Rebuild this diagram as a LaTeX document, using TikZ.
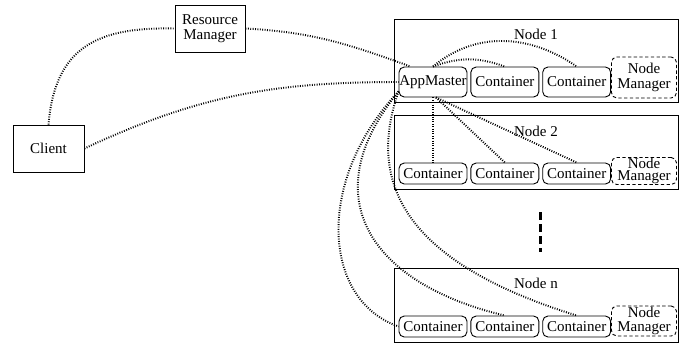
\documentclass[tikz,border=0pt]{standalone}
\usepackage{fontspec}
\setmainfont{Liberation Serif}
\usetikzlibrary{positioning}

\tikzset{
  box/.style={draw, line width=0.6pt, align=center, inner sep=0pt},
  host/.style={draw, line width=0.6pt, minimum width=189.3pt, minimum height=49.3pt},
  cont/.style={draw, rounded corners=3.5pt, line width=0.6pt, minimum width=45.3pt,
    minimum height=14pt, inner sep=0pt},
  nmgr/.style={draw, dash pattern=on 2.2pt off 1.6pt, rounded corners=3.5pt, line width=0.6pt,
    minimum width=43.3pt, align=center, inner sep=0pt},
  hostlabel/.style={anchor=north, inner sep=0pt},
  link/.style={line width=1.3pt, dash pattern=on 0.6pt off 1pt},
}

\begin{document}
\begin{tikzpicture}[x=0.6667pt, y=-0.6667pt]
	  \useasboundingbox (0,0) rectangle (686,351);

	  \node[box, minimum width=46.7pt, minimum height=31.3pt] (rm) at (210,28.5) {Resource\\[-2pt]Manager};
	  \node[box, minimum width=47.3pt, minimum height=31.3pt] (client) at (48.5,148.5) {Client};

	  % node 1
	  \node[host, minimum height=55.3pt] (n1) at (536,60.5) {};
	  \node[hostlabel] (n1lbl) at ([yshift=-7pt]n1.north) {Node 1};
	  \node[cont, minimum height=20pt] (am) at (433,82) {AppMaster};
	  \node[cont, minimum height=20pt, right=2pt of am] (c12) {Container};
	  \node[cont, minimum height=20pt, right=2pt of c12] (c13) {Container};
	  \node[nmgr, minimum height=27.3pt] (nm1) at (644,77.5) {Node\\[-2pt]Manager};

	  % node 2
	  \node[host] (n2) at (536,152) {};
	  \node[hostlabel] (n2lbl) at ([yshift=-7.5pt]n2.north) {Node 2};
	  \node[cont] (c21) at (433,173.5) {Container};
	  \node[cont, right=2pt of c21] (c22) {Container};
	  \node[cont, right=2pt of c22] (c23) {Container};
	  \node[nmgr, minimum height=18pt] (nm2) at (644,171) {Node\\[-3.5pt]Manager};

	  % node n
	  \node[host] (nn) at (536,305) {};
	  \node[hostlabel] (nnlbl) at ([yshift=-6.5pt]nn.north) {Node n};
	  \node[cont] (c31) at (433,326.5) {Container};
	  \node[cont, right=2pt of c31] (c32) {Container};
	  \node[cont, right=2pt of c32] (c33) {Container};
	  \node[nmgr, minimum height=20pt] (nm3) at (644,321) {Node\\[-2.5pt]Manager};

	  \coordinate (dots-a) at (540,212);
	  \coordinate (dots-b) at (540,252);
	  \draw[line width=2pt, dash pattern=on 5pt off 3pt] (dots-a) -- (dots-b);

	  \draw[link] (client.north) .. controls (55,45) and (100,27) .. (rm.west);
	  \draw[link] (rm.east) to[out=-3, in=160] ([xshift=8pt]am.north west);
	  \draw[link] (client.east) to[out=25, in=180] (am.west);

	  \draw[link] (am.north) to[out=20, in=160] (c12.north);
	  \draw[link] (am.north) to[out=40, in=145] (c13.north);

	  \draw[link] (am.south) -- (c21.north);
	  \draw[link] ([xshift=2pt]am.south) -- (c22.north);
	  \draw[link] ([xshift=2pt]am.south) -- (c23.north);

	  \draw[link] ([yshift=4pt]am.south west) .. controls (315,180) and (322,300) .. (c31.west);
	  \draw[link] ([yshift=4pt]am.south west) .. controls (310,200) and (375,285) .. (c32.north);
	  \draw[link] ([yshift=4pt]am.south west) .. controls (360,200) and (430,270) .. (c33.north);
\end{tikzpicture}
\end{document}
